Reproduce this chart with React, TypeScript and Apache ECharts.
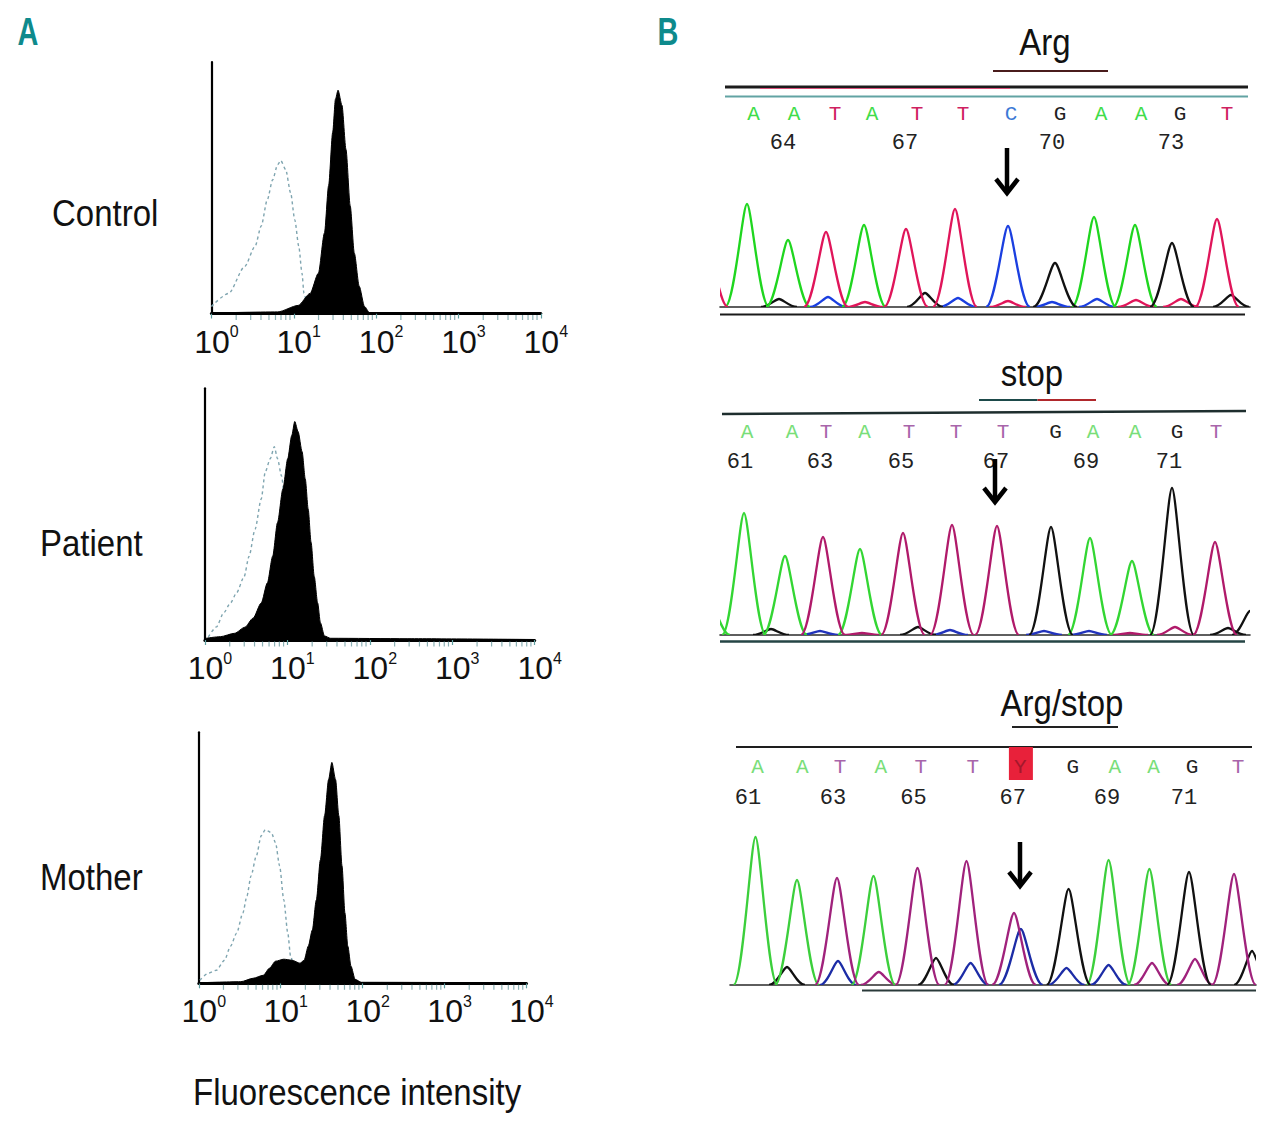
import React, { useEffect, useRef } from "react";
import * as echarts from "echarts";

// ================= Panel A: flow cytometry histograms =================
// [fluorescence intensity (log scale), cell count]
const controlIsotype: number[][] = [
  [1, 7], [1.62, 20], [2.55, 47], [3.4, 67], [4.03, 87], [4.77, 113], [5.55, 133], [6.37, 148],
  [6.96, 152], [7.99, 143], [9.16, 120], [10.3, 93], [11.5, 67], [12.6, 40], [13.3, 20], [14.9, 5], [17.6, 1],
];
const controlStained: number[][] = [
  [1, 0.5], [6.4, 1.6], [11.3, 8], [15.8, 20], [19.9, 40], [23.6, 80], [26.5, 127], [29.7, 180], [32.1, 213],
  [34.5, 222], [38.5, 207], [43.1, 163], [48.5, 107], [54.4, 60], [62.4, 27], [72.3, 7], [82.9, 1], [200, 0.8], [10000, 0.5],
];
const patientIsotype: number[][] = [
  [1.1, 3], [1.38, 13], [1.69, 27], [2.05, 37], [2.43, 47], [2.99, 63], [3.43, 83], [4.06, 110], [4.82, 140],
  [5.4, 167], [6.2, 180], [6.95, 192], [7.6, 180], [8.5, 163], [9.55, 130], [10.96, 83], [12.7, 37], [15.1, 7], [18.9, 1.7],
];
const patientStained: number[][] = [
  [1.03, 1.7], [1.54, 3.3], [2.3, 6.7], [3.05, 12.7], [3.84, 21.7], [4.82, 36.7], [5.72, 56.7], [6.64, 83.3],
  [7.6, 116.7], [8.83, 150], [10.1, 180], [11.3, 203], [12.3, 217], [13.5, 207], [15.1, 187], [16.5, 160],
  [17.9, 130], [19.4, 97], [21.2, 63], [23.3, 37], [25.2, 17], [28.2, 4], [33.5, 1.7], [290, 1.3], [10000, 0.5],
];
const motherIsotype: number[][] = [
  [1.03, 3], [1.3, 10], [1.64, 13], [2.06, 23], [2.44, 37], [2.9, 50], [3.45, 70], [3.87, 87], [4.34, 107],
  [5.04, 127], [5.78, 147], [6.49, 153], [7.7, 150], [8.64, 140], [9.69, 117], [10.9, 83], [12.2, 50], [13.2, 27],
  [15.3, 7], [18.2, 1],
];
const motherStained: number[][] = [
  [1, 0.5], [3.26, 1.6], [4.6, 5], [6.13, 8], [7.28, 15], [8.64, 22], [10.9, 24], [13.7, 23], [17.2, 20],
  [19.3, 23], [21.7, 37], [24.3, 53], [27.2, 83], [30.5, 123], [34.3, 167], [38.4, 203], [42.1, 220], [46.7, 203],
  [51.2, 167], [56, 117], [60.8, 70], [65.9, 37], [72.1, 17], [80.9, 4], [96.2, 1], [10000, 0.5],
];
const histogramNames = ["Control", "Patient", "Mother"];
const histogramAxisTitle = "Fluorescence intensity";
const decadeTicks = [1, 10, 100, 1000, 10000];
const decadeExponents = ["0", "1", "2", "3", "4"];
const minorTicks = [
  2, 3, 4, 5, 6, 7, 8, 9, 20, 30, 40, 50, 60, 70, 80, 90,
  200, 300, 400, 500, 600, 700, 800, 900, 2000, 3000, 4000, 5000, 6000, 7000, 8000, 9000,
];

// ================= Panel B: sequencing chromatograms =================
// [channel, scan, signal]
type Peak = [string, number, number];
const argPeaks: Peak[] = [
  ["T", -14, 70], ["A", 27, 103], ["A", 68, 67], ["T", 106, 75], ["A", 144, 82], ["T", 186, 78], ["T", 235, 98],
  ["C", 288, 81], ["G", 335, 44], ["A", 374, 90], ["A", 415, 82], ["G", 452, 64], ["T", 497, 88],
];
const argBackground: Peak[] = [
  ["G", 59, 8], ["C", 108, 10], ["T", 145, 5], ["G", 205, 14], ["C", 238, 9], ["T", 288, 6], ["C", 332, 5],
  ["C", 377, 8], ["T", 416, 7], ["T", 461, 8], ["G", 511, 12],
];
const stopPeaks: Peak[] = [
  ["A", -12, 40], ["A", 24, 122], ["A", 65, 79], ["T", 103, 98], ["A", 140, 86], ["T", 183, 102], ["T", 232, 110],
  ["T", 277, 109], ["G", 331, 108], ["A", 370, 97], ["A", 412, 74], ["G", 452, 147], ["T", 495, 93],
];
const stopBackground: Peak[] = [
  ["G", 51, 6], ["C", 100, 4], ["T", 142, 2], ["G", 198, 8], ["C", 230, 5], ["C", 324, 4], ["C", 369, 4],
  ["T", 410, 2], ["T", 455, 8], ["G", 508, 7], ["G", 530, 24],
];
const hetPeaks: Peak[] = [
  ["A", 25.5, 148], ["A", 67, 105], ["T", 107, 107], ["A", 143.5, 109], ["T", 187.5, 117], ["T", 236.5, 124],
  ["T", 284, 72], ["C", 290.8, 56], ["G", 338.6, 96], ["A", 378.6, 125], ["A", 419.4, 116], ["G", 459, 113],
  ["T", 504, 111],
];
const hetBackground: Peak[] = [
  ["G", 57, 18], ["C", 108, 24], ["T", 148.8, 13], ["G", 206, 27], ["C", 240.6, 22], ["C", 336.5, 17],
  ["C", 378.6, 20], ["T", 422, 22], ["T", 465, 26], ["G", 522, 34],
];

const argBases = ["A", "A", "T", "A", "T", "T", "C", "G", "A", "A", "G", "T"];
const argBaseScans = [33.5, 74, 115, 152, 197, 243, 291, 340, 381, 421, 460, 507];
const argNumbers = ["64", "67", "70", "73"];
const argNumberScans = [63, 185, 332, 451];

const stopBases = ["A", "A", "T", "A", "T", "T", "T", "G", "A", "A", "G", "T"];
const stopBaseScans = [27, 72, 106, 144.5, 189, 236, 283, 335.5, 373, 415, 457, 496];
const stopNumbers = ["61", "63", "65", "67", "69", "71"];
const stopNumberScans = [20, 100, 181, 276, 366, 449];

const hetBases = ["A", "A", "T", "A", "T", "T", "Y", "G", "A", "A", "G", "T"];
const hetBaseScans = [27.6, 72.4, 110, 150.8, 190.8, 242.7, 290.4, 342.7, 384.7, 423.5, 462, 508];
const hetNumbers = ["61", "63", "65", "67", "69", "71"];
const hetNumberScans = [18, 103, 183.5, 282.7, 377, 454];

const codonLabels = ["Arg", "stop", "Arg/stop"];
const arrowScans = [287, 275, 290];
const panelLetters = ["A", "B"];

// ================= styles / layout =================
const SANS = '"Liberation Sans", Arial, sans-serif';
const NARROW = '"Liberation Sans Narrow", "Arial Narrow", "Liberation Sans", sans-serif';
const MONO = '"Liberation Mono", "DejaVu Sans Mono", monospace';

const histLayout = [
  { left: 211.4, top: 62, width: 329.4, height: 251.5, labelX: 52, labelY: 213 },
  { left: 204.9, top: 388.3, width: 329.8, height: 251.7, labelX: 40, labelY: 543 },
  { left: 198.8, top: 732.3, width: 327.7, height: 251, labelX: 40, labelY: 877 },
];

const chromLayout = [
  {
    left: 720, width: 530, baseline: 307, yMax: 110, letterY: 114, numberY: 143, arrowTop: 148, arrowBottom: 194,
    title: [1045, 42], underline: [993, 1108, 71],
    lines: [
      { x1: 725, y1: 87, x2: 1248, y2: 87, color: "#1c1c1c", w: 3 },
      { x1: 760, y1: 88.5, x2: 1010, y2: 88.5, color: "#d8507a", w: 1 },
      { x1: 725, y1: 96.5, x2: 1248, y2: 96.5, color: "#62a3a3", w: 2 },
      { x1: 720, y1: 314.5, x2: 1245, y2: 314.5, color: "#1a1a1a", w: 2 },
    ],
    traceColors: { A: "#1fd61f", T: "#e0155a", C: "#1b3fe0", G: "#111111" } as Record<string, string>,
    letterColors: { A: "#3fdc4a", T: "#cf2160", C: "#3d7ad6", G: "#222222" } as Record<string, string>,
  },
  {
    left: 720, width: 530, baseline: 635, yMax: 155, letterY: 432, numberY: 462, arrowTop: 459, arrowBottom: 503,
    title: [1032, 373], underline: [979, 1096, 400],
    lines: [
      { x1: 722, y1: 414, x2: 1246, y2: 411, color: "#1e2e2e", w: 2.4 },
      { x1: 720, y1: 641.5, x2: 1245, y2: 641.5, color: "#254545", w: 2.5 },
    ],
    traceColors: { A: "#33d633", T: "#b01a6a", C: "#2233bb", G: "#111111" } as Record<string, string>,
    letterColors: { A: "#79de79", T: "#a865aa", C: "#4466cc", G: "#222222" } as Record<string, string>,
  },
  {
    left: 730, width: 526, baseline: 985, yMax: 160, letterY: 767, numberY: 798, arrowTop: 842, arrowBottom: 887,
    title: [1062, 703], underline: [1012, 1118, 727],
    lines: [
      { x1: 736, y1: 747, x2: 1252, y2: 747, color: "#1e1e1e", w: 2.2 },
      { x1: 862, y1: 990.5, x2: 1256, y2: 990.5, color: "#2a3a3a", w: 2.2 },
    ],
    traceColors: { A: "#3ccf3c", T: "#a0227c", C: "#1c2ca6", G: "#111111" } as Record<string, string>,
    letterColors: { A: "#79de79", T: "#a865aa", C: "#4466cc", G: "#222222", Y: "#a3182c" } as Record<string, string>,
    box: { letter: "Y", top: 747, bottom: 780, fill: "#e8213a" },
  },
];

const chromatograms = [
  { peaks: argPeaks, background: argBackground, bases: argBases, baseScans: argBaseScans, numbers: argNumbers, numberScans: argNumberScans },
  { peaks: stopPeaks, background: stopBackground, bases: stopBases, baseScans: stopBaseScans, numbers: stopNumbers, numberScans: stopNumberScans },
  { peaks: hetPeaks, background: hetBackground, bases: hetBases, baseScans: hetBaseScans, numbers: hetNumbers, numberScans: hetNumberScans },
];
const histograms = [
  { isotype: controlIsotype, stained: controlStained },
  { isotype: patientIsotype, stained: patientStained },
  { isotype: motherIsotype, stained: motherStained },
];

function peakSeries(gi: number, data: number[][], color: string, hw: number, z: number) {
  return {
    type: "custom",
    xAxisIndex: gi,
    yAxisIndex: gi,
    clip: true,
    silent: true,
    z,
    data,
    renderItem: (_p: any, api: any) => {
      const x = api.value(0);
      const h = api.value(1);
      const L = api.coord([x - hw, 0]);
      const C = api.coord([x, h]);
      const R = api.coord([x + hw, 0]);
      const w = C[0] - L[0];
      const d =
        `M${L[0]},${L[1]}C${L[0] + 0.42 * w},${L[1]} ${C[0] - 0.2 * w},${C[1]} ${C[0]},${C[1]}` +
        `C${C[0] + 0.2 * w},${C[1]} ${R[0] - 0.42 * w},${R[1]} ${R[0]},${R[1]}`;
      return { type: "path", shape: { pathData: d }, style: { stroke: color, fill: "none", lineWidth: 2.3 } };
    },
  };
}

function textSeries(gi: number, scans: number[], labels: string[], y: number, colors: Record<string, string>, font: string, box?: any) {
  return {
    type: "custom",
    xAxisIndex: gi,
    yAxisIndex: gi,
    clip: false,
    silent: true,
    z: 6,
    data: scans.map((s) => [s, 0]),
    renderItem: (params: any, api: any) => {
      const x = api.coord([api.value(0), 0])[0];
      const t = labels[params.dataIndex];
      const children: any[] = [];
      if (box && t === box.letter) {
        children.push({ type: "rect", shape: { x: x - 11.5, y: box.top, width: 24, height: box.bottom - box.top }, style: { fill: box.fill } });
      }
      children.push({
        type: "text",
        x,
        y,
        style: { text: t, fill: colors[t] || "#222", font, textAlign: "center", textVerticalAlign: "middle" },
      });
      return { type: "group", children };
    },
  };
}

function buildOption() {
  const grid: any[] = [];
  const xAxis: any[] = [];
  const yAxis: any[] = [];
  const series: any[] = [];
  const graphic: any[] = [];

  histograms.forEach((h, i) => {
    const L = histLayout[i];
    grid.push({ left: L.left, top: L.top, width: L.width, height: L.height, containLabel: false, outerBoundsMode: "none" });
    xAxis.push({
      type: "log",
      logBase: 10,
      gridIndex: i,
      min: 1,
      max: 10000,
      axisLine: { show: true, onZero: false, lineStyle: { color: "#000", width: 3 } },
      axisTick: { show: true, length: 5, lineStyle: { color: "#5f9ea0", width: 1.2 } },
      splitLine: { show: false },
      minorTick: { show: false },
      axisLabel: {
        show: true,
        margin: 10,
        padding: [0, 0, 0, 10],
        showMinLabel: true,
        showMaxLabel: true,
        hideOverlap: false,
        formatter: (v: number) => {
          const k = decadeTicks.findIndex((t) => Math.abs(t - v) < t * 1e-6);
          return k < 0 ? "" : `{a|10}{b|${decadeExponents[k]}}`;
        },
        rich: {
          a: { fontFamily: NARROW, fontSize: 32, color: "#111", lineHeight: 36 },
          b: { fontFamily: NARROW, fontSize: 16, color: "#111", lineHeight: 20, verticalAlign: "top" },
        },
      },
    });
    yAxis.push({
      type: "value",
      gridIndex: i,
      min: 0,
      max: 250,
      axisLine: { show: true, onZero: false, lineStyle: { color: "#000", width: 2.2 } },
      axisTick: { show: false },
      axisLabel: { show: false },
      splitLine: { show: false },
    });
    series.push({
      type: "scatter",
      xAxisIndex: i,
      yAxisIndex: i,
      data: minorTicks.map((v) => [v, 0]),
      symbol: "rect",
      symbolSize: [1.2, 5],
      symbolOffset: [0, 4],
      itemStyle: { color: "#6f9ea3" },
      clip: false,
      silent: true,
      z: 1,
    });
    series.push({
      type: "line",
      xAxisIndex: i,
      yAxisIndex: i,
      data: h.isotype,
      symbol: "none",
      smooth: 0.25,
      smoothMonotone: "x",
      lineStyle: { color: "#7fa5b0", width: 1.4, type: [3, 3] },
      silent: true,
      z: 2,
    });
    series.push({
      type: "line",
      xAxisIndex: i,
      yAxisIndex: i,
      data: h.stained,
      symbol: "none",
      smooth: 0.25,
      smoothMonotone: "x",
      lineStyle: { color: "#000", width: 1 },
      areaStyle: { color: "#000", opacity: 1 },
      silent: true,
      z: 3,
    });
    graphic.push({
      type: "text",
      x: L.labelX,
      y: L.labelY,
      scaleY: 1.12,
      style: { text: histogramNames[i], font: `33px ${SANS}`, fill: "#111", textAlign: "left", textVerticalAlign: "middle" },
    });
  });

  graphic.push({
    type: "text",
    x: 193,
    y: 1092,
    scaleY: 1.12,
    style: { text: histogramAxisTitle, font: `33px ${SANS}`, fill: "#111", textAlign: "left", textVerticalAlign: "middle" },
  });
  [28, 668].forEach((x, i) => {
    graphic.push({
      type: "text",
      x,
      y: 31,
      scaleY: 1.15,
      scaleX: 0.85,
      style: { text: panelLetters[i], font: `bold 34px ${NARROW}`, fill: "#0e8a8c", textAlign: "center", textVerticalAlign: "middle" },
    });
  });

  const channels = ["A", "C", "G", "T"];
  chromatograms.forEach((c, k) => {
    const gi = 3 + k;
    const L = chromLayout[k];
    grid.push({ left: L.left, top: L.baseline - L.yMax, width: L.width, height: L.yMax, containLabel: false, outerBoundsMode: "none" });
    xAxis.push({
      type: "value",
      gridIndex: gi,
      min: 0,
      max: L.width,
      axisLine: { show: true, onZero: false, lineStyle: { color: "#2a2a2a", width: 1.6 } },
      axisTick: { show: false },
      axisLabel: { show: false },
      splitLine: { show: false },
    });
    yAxis.push({ type: "value", gridIndex: gi, min: 0, max: L.yMax, show: false, splitLine: { show: false } });

    channels.forEach((ch) => {
      const bg = c.background.filter((p) => p[0] === ch).map((p) => [p[1], p[2]]);
      if (bg.length) series.push(peakSeries(gi, bg, L.traceColors[ch], 18, 3));
    });
    channels.forEach((ch) => {
      const main = c.peaks.filter((p) => p[0] === ch).map((p) => [p[1], p[2]]);
      if (main.length) series.push(peakSeries(gi, main, L.traceColors[ch], 22, 4));
    });

    series.push(textSeries(gi, c.baseScans, c.bases, L.letterY, L.letterColors, `21px ${MONO}`, (L as any).box));
    series.push(textSeries(gi, c.numberScans, c.numbers, L.numberY, { x: "#222" }, `22px ${MONO}`));
    series.push({
      type: "custom",
      xAxisIndex: gi,
      yAxisIndex: gi,
      clip: false,
      silent: true,
      z: 7,
      data: [[arrowScans[k], 0]],
      renderItem: (_p: any, api: any) => {
        const x = api.coord([api.value(0), 0])[0];
        return {
          type: "group",
          children: [
            { type: "line", shape: { x1: x, y1: L.arrowTop, x2: x, y2: L.arrowBottom - 4 }, style: { stroke: "#000", lineWidth: 4.5 } },
            {
              type: "polyline",
              shape: { points: [[x - 11, L.arrowBottom - 15], [x, L.arrowBottom - 1], [x + 11, L.arrowBottom - 15]] },
              style: { stroke: "#000", lineWidth: 4.5, fill: "none", lineJoin: "miter" },
            },
          ],
        };
      },
    });

    graphic.push({
      type: "text",
      x: L.title[0],
      y: L.title[1],
      scaleY: 1.12,
      style: { text: codonLabels[k], font: `33px ${SANS}`, fill: "#111", textAlign: "center", textVerticalAlign: "middle" },
    });
    const [u1, u2, uy] = L.underline;
    if (k === 1) {
      graphic.push({ type: "line", shape: { x1: u1, y1: uy, x2: (u1 + u2) / 2, y2: uy }, style: { stroke: "#1d4a4a", lineWidth: 2 } });
      graphic.push({ type: "line", shape: { x1: (u1 + u2) / 2, y1: uy, x2: u2, y2: uy }, style: { stroke: "#b0282c", lineWidth: 2 } });
    } else {
      graphic.push({ type: "line", shape: { x1: u1, y1: uy, x2: u2, y2: uy }, style: { stroke: k === 0 ? "#4a1c1c" : "#222", lineWidth: 2 } });
    }
    L.lines.forEach((ln) => {
      graphic.push({ type: "line", shape: { x1: ln.x1, y1: ln.y1, x2: ln.x2, y2: ln.y2 }, style: { stroke: ln.color, lineWidth: ln.w } });
    });
  });

  return {
    animation: false,
    backgroundColor: "#ffffff",
    grid,
    xAxis,
    yAxis,
    series,
    graphic,
  };
}

export default function App() {
  const ref = useRef<HTMLDivElement>(null);
  useEffect(() => {
    if (!ref.current) return;
    const chart = echarts.init(ref.current, undefined, { renderer: "svg" });
    chart.setOption(buildOption() as any);
    return () => chart.dispose();
  }, []);
  return (
    <div
      ref={ref}
      style={{ position: "absolute", left: 0, top: 0, width: 1280, height: 1127, background: "#fff" }}
    />
  );
}
